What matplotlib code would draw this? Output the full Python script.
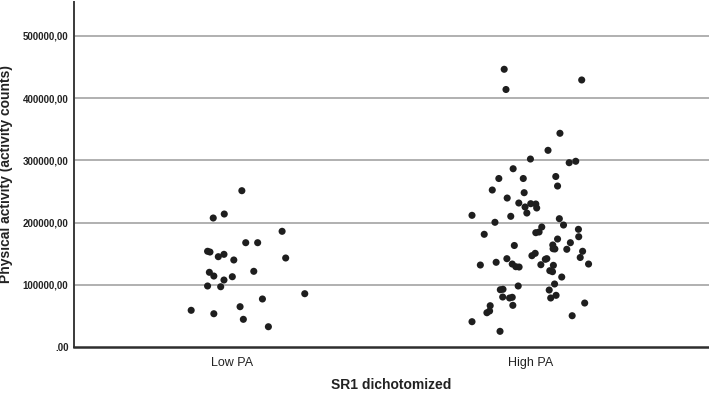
import numpy as np
import matplotlib
matplotlib.use('Agg')
import matplotlib.pyplot as plt
from matplotlib.ticker import FuncFormatter

plt.rcParams['font.family'] = ['Liberation Sans', 'DejaVu Sans']

CATEGORIES = ['Low PA', 'High PA']

# Low PA group: jittered x offset, activity counts
low_x = [0.033, -0.063, -0.026, 0.168, 0.046, 0.086, -0.082, -0.074, -0.046, -0.027,
         0.006, 0.180, -0.076, -0.061, 0.001, -0.027, 0.073, -0.082, -0.038, 0.244,
         0.102, -0.137, 0.027, -0.061, 0.038, 0.122]
low_y = [251300, 207400, 213800, 186000, 167700, 167700, 153900, 152700, 145200, 149000,
         139900, 143100, 120100, 114100, 113000, 107700, 121700, 98100, 96900, 85700,
         77200, 59000, 64800, 53500, 44500, 32600]

# High PA group
high_x = [0.913, 0.919, 1.173, 1.100, 1.060, 1.001, 1.131, 1.153, 0.943, 0.895,
          0.977, 1.086, 1.092, 0.873, 0.980, 0.923, 0.962, 0.983, 1.002, 1.019,
          1.022, 0.989, 0.805, 0.935, 0.882, 1.098, 1.112, 1.039, 1.019, 1.030,
          0.846, 1.162, 1.163, 1.092, 1.135, 0.947, 1.076, 1.077, 1.083, 1.123,
          1.017, 1.006, 1.176, 0.922, 1.056, 1.051, 1.168, 0.833, 0.886, 0.940,
          0.952, 0.963, 1.036, 1.078, 1.196, 1.066, 1.075, 1.106, 1.082, 0.960,
          0.900, 0.909, 1.064, 0.908, 0.931, 0.940, 1.087, 1.069, 0.942, 0.866,
          0.864, 0.855, 1.183, 1.141, 0.805, 0.899]
high_y = [446500, 414000, 429300, 343600, 316200, 302200, 296300, 298600, 286600, 270900,
          270900, 274100, 258800, 252400, 248100, 239500, 231500, 225100, 230400, 229900,
          223500, 215400, 211700, 210100, 200500, 206300, 196100, 192900, 183800, 184900,
          181200, 189200, 177300, 173600, 167700, 163200, 164000, 158000, 157600, 157100,
          150600, 146800, 153900, 142000, 142000, 141000, 143900, 131800, 136200, 133400,
          129100, 128600, 132300, 131300, 133400, 122700, 121100, 112500, 101300, 98100,
          92100, 92800, 91600, 80400, 78800, 79900, 83100, 78800, 67000, 66400,
          57900, 55100, 70700, 50300, 40700, 25200]

Y_TICKS = [0, 100000, 200000, 300000, 400000, 500000]


def fmt_tick(v, pos):
    if v == 0:
        return '.00'
    return '%d,00' % v


fig = plt.figure(figsize=(7.09, 3.95), dpi=100)
ax = fig.add_axes([0.1044, 0.1215, 0.8956, 0.8735])

for t in Y_TICKS[1:]:
    ax.axhline(t, color='#a3a3a3', linewidth=1.2, zorder=1)

ax.scatter(low_x, low_y, s=26, color='#1e1e1e', edgecolors='none', zorder=3)
ax.scatter(high_x, high_y, s=26, color='#1e1e1e', edgecolors='none', zorder=3)

ax.set_xlim(-0.53, 1.60)
ax.set_ylim(0, 554700)
ax.set_yticks(Y_TICKS)
ax.yaxis.set_major_formatter(FuncFormatter(fmt_tick))
ax.set_xticks([0, 1])
ax.set_xticklabels(CATEGORIES)

ax.tick_params(axis='y', length=0, pad=4, labelsize=7, labelcolor='#222222')
ax.tick_params(axis='x', length=0, pad=7, labelsize=9, labelcolor='#222222')
for lab in ax.get_yticklabels():
    lab.set_fontweight('bold')

ax.spines['top'].set_visible(False)
ax.spines['right'].set_visible(False)
ax.spines['left'].set_color('#3a3a3a')
ax.spines['left'].set_linewidth(1.4)
ax.spines['bottom'].set_color('#2e2e2e')
ax.spines['bottom'].set_linewidth(1.8)

ax.set_ylabel('Physical activity (activity counts)', fontsize=10, fontweight='bold',
              color='#222222', labelpad=7)
ax.set_xlabel('SR1 dichotomized', fontsize=10, fontweight='bold', color='#222222',
              labelpad=7)

fig.savefig('out.png', dpi=100)
